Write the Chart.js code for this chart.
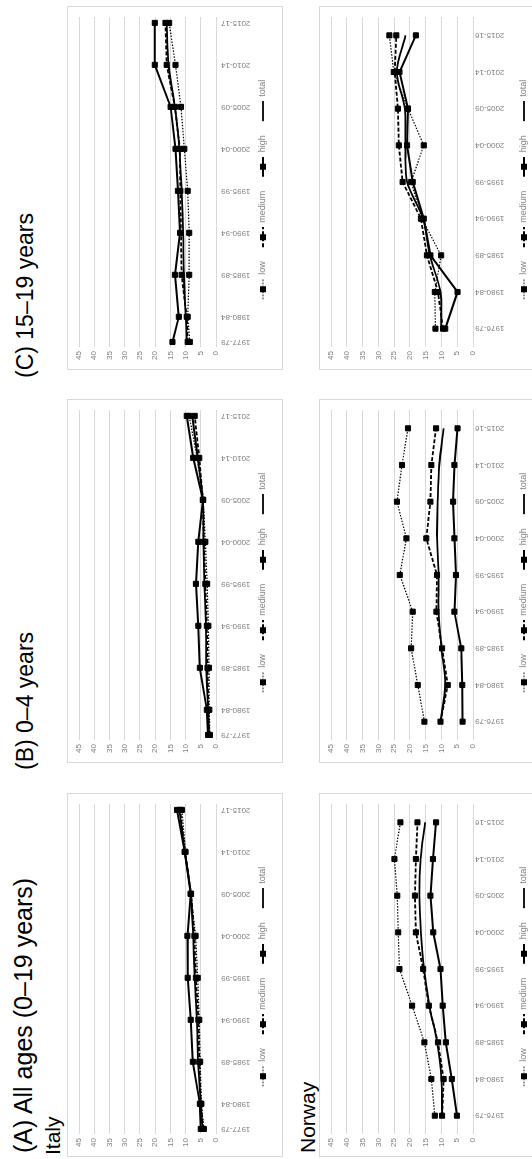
<!DOCTYPE html>
<html>
<head>
<meta charset="utf-8">
<script src="https://cdn.jsdelivr.net/npm/chart.js@4.4.1/dist/chart.umd.min.js"></script>
<style>
  html, body { margin: 0; padding: 0; background: #fff; }
  body { width: 532px; height: 1159px; overflow: hidden; position: relative; }
  /* the figure is laid out landscape and turned a quarter left */
  #fig { position: absolute; left: 0; top: 0; width: 1159px; height: 532px; overflow: hidden;
         transform-origin: 0 0; transform: translate(0, 1159px) rotate(-90deg);
         font-family: "Liberation Sans", Arial, sans-serif; background: #fff; }
  .box { position: absolute; border: 1px solid #d9d9d9; box-sizing: border-box; }
  .ttl { position: absolute; white-space: nowrap; line-height: 1; color: #000; }
  canvas { position: absolute; }
</style>
</head>
<body>
<div id="fig"></div>
<script>
"use strict";

const italyLabels = ['1977-79', '1980-84', '1985-89', '1990-94', '1995-99', '2000-04', '2005-09', '2010-14', '2015-17'];
const italyYears = [1977, 1980, 1985, 1990, 1995, 2000, 2005, 2010, 2015];
const norwayLabels = ['1976-79', '1980-84', '1985-89', '1990-94', '1995-99', '2000-04', '2005-09', '2010-14', '2015-16'];
const yTicks = [0, 5, 10, 15, 20, 25, 30, 35, 40, 45];
const seriesNames = ['low', 'medium', 'high', 'total'];

// (A) all ages
const italyAllLow    = [4.0, 4.8, 5.2, 5.5, 6.0, 6.7, 8.3, 10.0, 11.2];
const italyAllMedium = [4.2, 5.0, 5.5, 5.8, 6.6, 7.1, 8.2, 10.2, 11.8];
const italyAllHigh   = [5.0, 5.3, 7.6, 8.3, 9.3, 9.4, 8.3, 10.3, 12.8];
const italyAllTotal  = [4.4, 5.0, 5.9, 6.3, 7.0, 7.5, 8.3, 10.2, 12.0];
const norwayAllLow    = [12.1, 13.2, 15.4, 19.3, 23.3, 23.7, 24.0, 24.9, 23.0];
const norwayAllMedium = [9.8, 9.3, 11.1, 14.0, 15.8, 18.1, 18.4, 18.1, 17.6];
const norwayAllHigh   = [5.1, 6.7, 8.6, 9.6, 10.3, 12.6, 13.5, 12.7, 11.7];
const norwayAllTotal  = [9.8, 10.0, 11.4, 13.8, 15.5, 16.5, 17.0, 16.6, 15.2];

// (B) 0-4 years
const italyYoungLow    = [2.0, 2.2, 2.3, 2.5, 2.9, 3.5, 4.2, 6.2, 8.8];
const italyYoungMedium = [2.3, 2.5, 2.8, 3.0, 3.5, 4.0, 4.3, 5.5, 7.0];
const italyYoungHigh   = [2.6, 3.0, 5.3, 5.8, 6.6, 5.8, 4.3, 7.5, 9.6];
const italyYoungTotal  = [2.3, 2.6, 3.2, 3.3, 3.8, 4.1, 4.3, 6.0, 7.8];
const norwayYoungLow    = [15.4, 17.5, 19.6, 19.1, 23.2, 21.1, 24.1, 22.5, 20.6];
const norwayYoungMedium = [10.3, 8.0, 9.8, 11.6, 11.4, 14.8, 13.5, 13.2, 11.7];
const norwayYoungHigh   = [3.3, 3.4, 3.7, 5.9, 5.4, 5.9, 6.3, 5.9, 4.9];
const norwayYoungTotal  = [10.3, 8.8, 10.0, 10.9, 10.9, 11.4, 11.2, 10.7, 9.3];

// (C) 15-19 years
const italyTeenLow    = [8.6, 9.3, 8.8, 8.8, 9.3, 10.4, 11.5, 13.3, 15.4];
const italyTeenMedium = [9.3, 9.6, 11.3, 11.5, 11.7, 11.9, 13.5, 16.2, 16.6];
const italyTeenHigh   = [14.3, 12.2, 13.5, 11.8, 12.5, 13.3, 14.9, 20.1, 20.1];
const italyTeenTotal  = [9.6, 9.9, 10.6, 10.8, 11.3, 12.0, 13.5, 15.6, 16.2];
const norwayTeenLow    = [11.9, 12.1, 10.1, 16.2, 19.6, 15.6, 20.6, 25.1, 26.5];
const norwayTeenMedium = [9.5, 11.1, 14.6, 16.5, 22.3, 23.5, 23.8, 24.8, 24.3];
const norwayTeenHigh   = [8.8, 4.9, 13.5, 15.6, 19.1, 20.9, 20.6, 23.3, 18.1];
const norwayTeenTotal  = [10.1, 10.3, 13.7, 15.8, 20.9, 21.4, 21.6, 24.1, 21.4];

const fig = document.getElementById('fig');
const FONT = 'Liberation Sans';
const GRAY = '#7f7f7f';
const PANEL_X = [2, 396, 789];
const PANEL_W = 364;
const ROWS = {
    italy:  { y: 67,  h: 216, plotH: 137, tickPad: 5, legendBottom: 5.5 },
    norway: { y: 319, h: 222, plotH: 142, tickPad: 2, legendBottom: 2.5 }
};
const PLOT_TOP = 12;
const LEGEND_PAD = 6;
const LEGEND_H = 9 + LEGEND_PAD + 10;   // what Chart.js gives a one-row legend
const SYM_SHIFT = 8;                    // extra room left of each legend symbol

const STYLES = [
    { dash: [1.5, 1.5], width: 1.2, marker: true },
    { dash: [4, 2],     width: 1.8, marker: true },
    { dash: [],         width: 2,   marker: true },
    { dash: [],         width: 1.8, marker: false }
];

function legendSymbol(st) {
    const c = document.createElement('canvas');
    c.width = 20 + SYM_SHIFT;
    c.height = 8;
    const g = c.getContext('2d');
    g.strokeStyle = '#000';
    g.lineWidth = st.width;
    g.setLineDash(st.dash);
    g.beginPath();
    g.moveTo(SYM_SHIFT, 4);
    g.lineTo(SYM_SHIFT + 20, 4);
    g.stroke();
    if (st.marker) {
        g.fillStyle = '#000';
        g.fillRect(SYM_SHIFT + 7, 1, 6, 6);
    }
    return c;
}
const symbols = STYLES.map(legendSymbol);

function addText(text, x, baseline, size) {
    const d = document.createElement('div');
    d.className = 'ttl';
    d.textContent = text;
    d.style.left = x + 'px';
    d.style.top = (baseline - 0.8465 * size) + 'px';
    d.style.fontSize = size + 'px';
    fig.appendChild(d);
}

function makeChart(col, rowKey, series) {
    const row = ROWS[rowKey];
    const isItaly = rowKey === 'italy';
    const x0 = PANEL_X[col];

    const box = document.createElement('div');
    box.className = 'box';
    box.style.left = x0 + 'px';
    box.style.top = row.y + 'px';
    box.style.width = PANEL_W + 'px';
    box.style.height = row.h + 'px';
    fig.appendChild(box);

    const cv = document.createElement('canvas');
    cv.width = PANEL_W;
    cv.height = row.h;
    cv.style.left = x0 + 'px';
    cv.style.top = row.y + 'px';
    fig.appendChild(cv);

    const xH = row.h - row.legendBottom - LEGEND_H - (PLOT_TOP + row.plotH);
    const tickFont = { family: FONT, size: 8 };

    const datasets = series.map((vals, i) => {
        const st = STYLES[i];
        return {
            label: seriesNames[i],
            data: isItaly ? vals.map((v, k) => ({ x: italyYears[k], y: v })) : vals,
            borderColor: '#000',
            backgroundColor: '#000',
            borderWidth: st.width,
            borderDash: st.dash,
            pointStyle: 'rect',
            pointRadius: st.marker ? 3.6 : 0,
            pointBorderWidth: 1,
            pointBackgroundColor: '#000',
            pointBorderColor: '#000',
            tension: i === 3 ? 0.3 : 0,
            fill: false,
            order: 3 - i
        };
    });

    const xScale = isItaly ? {
        type: 'linear',
        min: 1976.4,
        max: 2015.7,
        afterBuildTicks: sc => { sc.ticks = italyYears.map(v => ({ value: v })); },
        ticks: { callback: v => italyLabels[italyYears.indexOf(v)] }
    } : {
        type: 'category',
        offset: true
    };
    Object.assign(xScale, {
        grid: { display: false, drawTicks: false },
        border: { display: false },
        afterFit: sc => { sc.height = xH; }
    });
    xScale.ticks = Object.assign(xScale.ticks || {}, {
        minRotation: 90, maxRotation: 90, autoSkip: false,
        padding: row.tickPad, font: tickFont, color: GRAY
    });

    new Chart(cv.getContext('2d'), {
        type: 'line',
        data: { labels: isItaly ? undefined : norwayLabels, datasets: datasets },
        options: {
            responsive: false,
            animation: false,
            devicePixelRatio: 1,
            layout: { padding: { top: PLOT_TOP, right: 11, bottom: row.legendBottom, left: 0 } },
            scales: {
                x: xScale,
                y: {
                    min: 0,
                    max: 45,
                    afterBuildTicks: sc => { sc.ticks = yTicks.map(v => ({ value: v })); },
                    grid: { color: '#d9d9d9', lineWidth: 1, drawTicks: false },
                    border: { display: false },
                    ticks: { padding: 4, font: tickFont, color: GRAY },
                    afterFit: sc => { sc.width = 23; }
                }
            },
            plugins: {
                tooltip: { enabled: false },
                legend: {
                    position: 'bottom',
                    align: 'center',
                    labels: {
                        usePointStyle: true,
                        pointStyleWidth: 20 + SYM_SHIFT,
                        boxHeight: 9,
                        padding: LEGEND_PAD,
                        font: { family: FONT, size: 9 },
                        color: GRAY,
                        generateLabels: () => seriesNames.map((name, i) => ({
                            text: name,
                            pointStyle: symbols[i],
                            datasetIndex: i,
                            hidden: false,
                            fillStyle: '#000',
                            strokeStyle: '#000',
                            lineWidth: 0,
                            fontColor: GRAY
                        }))
                    }
                }
            }
        }
    });
}

addText('(A) All ages (0\u201319 years)', 6, 32, 25);
addText('(B) 0\u20134 years', 389, 33, 23);
addText('(C) 15\u201319 years', 781, 33, 23);
addText('Italy', 4, 60, 21);
addText('Norway', 6, 315, 21);

makeChart(0, 'italy',  [italyAllLow, italyAllMedium, italyAllHigh, italyAllTotal]);
makeChart(1, 'italy',  [italyYoungLow, italyYoungMedium, italyYoungHigh, italyYoungTotal]);
makeChart(2, 'italy',  [italyTeenLow, italyTeenMedium, italyTeenHigh, italyTeenTotal]);
makeChart(0, 'norway', [norwayAllLow, norwayAllMedium, norwayAllHigh, norwayAllTotal]);
makeChart(1, 'norway', [norwayYoungLow, norwayYoungMedium, norwayYoungHigh, norwayYoungTotal]);
makeChart(2, 'norway', [norwayTeenLow, norwayTeenMedium, norwayTeenHigh, norwayTeenTotal]);
</script>
</body>
</html>
